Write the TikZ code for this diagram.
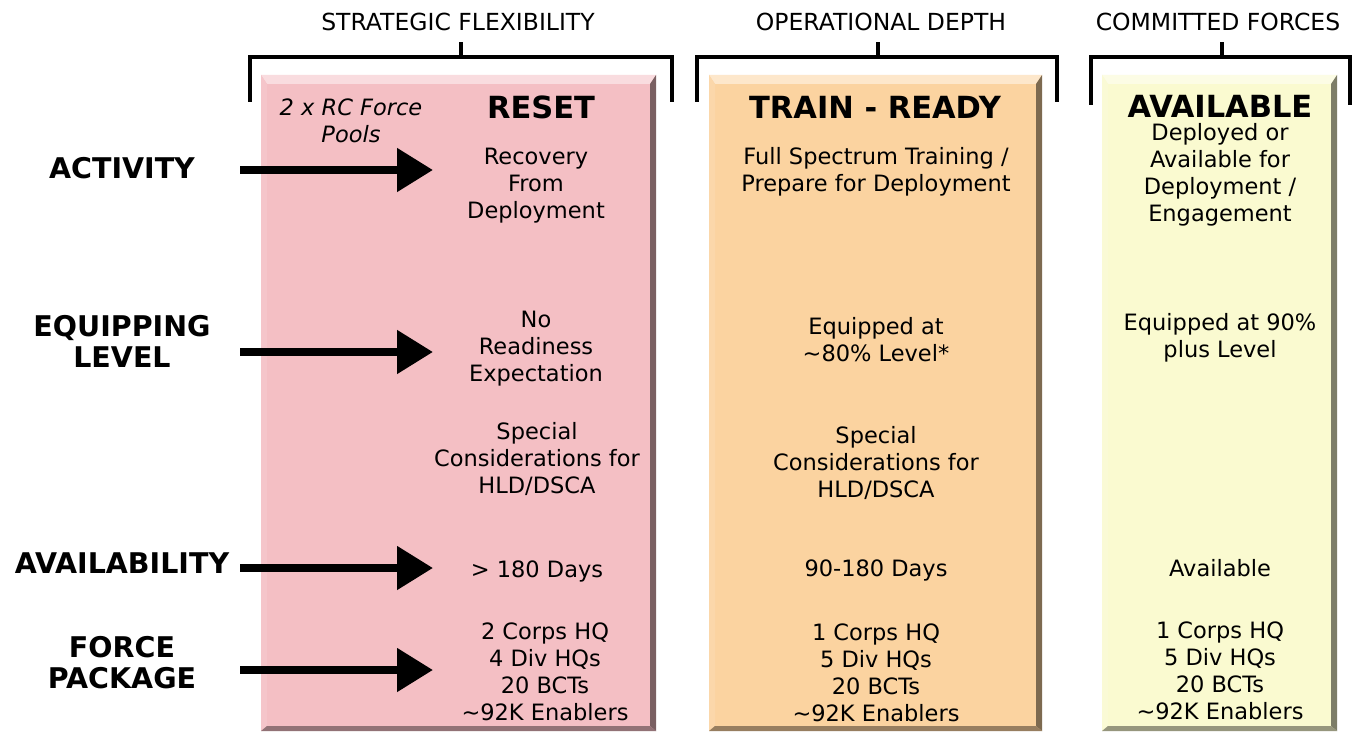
\documentclass[tikz,border=0pt]{standalone}
\usepackage{fontspec}
\setmainfont{DejaVu Sans}
\newfontfamily\boldlab{DejaVu Sans}[UprightFont=* Bold]
\usetikzlibrary{arrows.meta}
\definecolor{pinkc}{RGB}{244,191,196}
\definecolor{orangec}{RGB}{251,211,160}
\definecolor{yellowc}{RGB}{250,250,208}
\tikzset{
  body/.style={align=center, inner sep=0pt, font=\fontsize{22.5}{27}\selectfont},
  head/.style={inner sep=0pt, text depth=0pt, font=\boldlab\fontsize{30.5}{34}\selectfont},
  lab/.style={align=center, inner sep=0pt, font=\boldlab\fontsize{28.5}{31}\selectfont},
  ttl/.style={inner sep=0pt, font=\fontsize{23.5}{24}\selectfont},
  brk/.style={line width=4pt, line cap=rect},
  bigarrow/.style={line width=8pt, -{Triangle[length=36pt, width=42pt]}},
}
\newcommand\bevelbox[5]{%
  \fill[#5] (#1,#2) rectangle (#3,#4);
  \fill[#5!55!white] (#1,#2) -- (#3,#2) -- (#3-6,#2+9) -- (#1+6,#2+9) -- cycle;
  \fill[#5!90!white] (#1,#2) -- (#1+6,#2+9) -- (#1+6,#4-5) -- (#1,#4) -- cycle;
  \fill[#5!50!black] (#3,#2) -- (#3,#4) -- (#3-6,#4-5) -- (#3-6,#2+9) -- cycle;
  \fill[#5!60!black] (#1,#4) -- (#3,#4) -- (#3-6,#4-5) -- (#1+6,#4-5) -- cycle;
}
\begin{document}
\begin{tikzpicture}[x=1pt, y=-1pt]
\useasboundingbox[fill=white] (0,0) rectangle (1356,733);

% boxes
\bevelbox{261}{75}{656}{731}{pinkc}
\bevelbox{709}{75}{1042}{731}{orangec}
\bevelbox{1102}{75}{1337}{731}{yellowc}

% brackets
\draw[brk] (250,100) -- (250,57) -- (672,57) -- (672,100);
\draw[brk] (461,57) -- (461,44);
\draw[brk] (697,100) -- (697,57) -- (1057,57) -- (1057,100);
\draw[brk] (878,57) -- (878,44);
\draw[brk] (1091,103) -- (1091,57) -- (1350,57) -- (1350,103);
\draw[brk] (1222,57) -- (1222,44);

% titles
\node[ttl] (t1) at (458,22) {STRATEGIC FLEXIBILITY};
\node[ttl] (t2) at (881,22) {OPERATIONAL DEPTH};
\node[ttl] (t3) at (1218,22) {COMMITTED FORCES};

% left labels
\node[lab] (activity) at (122,168) {ACTIVITY};
\node[lab] (equip) at (122,341) {EQUIPPING\\LEVEL};
\node[lab] (avail) at (122,563) {AVAILABILITY};
\node[lab] (force) at (122,663) {FORCE\\PACKAGE};

% pink column
\node[body, font=\itshape\fontsize{22.5}{27}\selectfont] (pools) at (351,121) {2 x RC Force\\Pools};
\node[head] (reset) at (541,107) {RESET};
\node[body] (p1) at (536,186) {Recovery\\From\\Deployment};
\node[body] (p2) at (536,349) {No\\Readiness\\Expectation};
\node[body] (p3) at (537,459) {Special\\Considerations for\\HLD/DSCA};
\node[body] (p4) at (537,571) {> 180 Days};
\node[body] (p5) at (545,672) {2 Corps HQ\\4 Div HQs\\20 BCTs\\\textasciitilde92K Enablers};

% orange column
\node[head] (train) at (875,107) {TRAIN - READY};
\node[body] (o1) at (876,172) {Full Spectrum Training /\\Prepare for Deployment};
\node[body] (o2) at (876,340) {Equipped at\\\textasciitilde80\% Level*};
\node[body] (o3) at (876,463) {Special\\Considerations for\\HLD/DSCA};
\node[body] (o4) at (876,570) {90-180 Days};
\node[body] (o5) at (876,673) {1 Corps HQ\\5 Div HQs\\20 BCTs\\\textasciitilde92K Enablers};

% yellow column
\node[head] (availh) at (1220,106) {AVAILABLE};
\node[body] (y1) at (1220,175) {Deployed or\\Available for\\Deployment /\\Engagement};
\node[body] (y2) at (1220,338) {Equipped at 90\%\\plus Level};
\node[body] (y4) at (1220,568) {Available};
\node[body] (y5) at (1220,671) {1 Corps HQ\\5 Div HQs\\20 BCTs\\\textasciitilde92K Enablers};

% arrows
\coordinate (a1s) at (240,170); \coordinate (a1e) at (433,170);
\coordinate (a2s) at (240,352); \coordinate (a2e) at (433,352);
\coordinate (a3s) at (240,568); \coordinate (a3e) at (433,568);
\coordinate (a4s) at (240,670); \coordinate (a4e) at (433,670);
\draw[bigarrow] (a1s) -- (a1e);
\draw[bigarrow] (a2s) -- (a2e);
\draw[bigarrow] (a3s) -- (a3e);
\draw[bigarrow] (a4s) -- (a4e);
\end{tikzpicture}
\end{document}
